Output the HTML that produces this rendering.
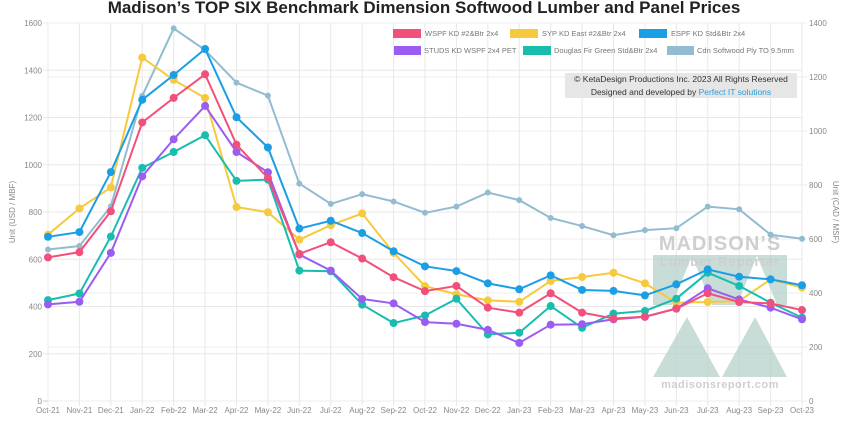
<!DOCTYPE html>
<html><head><meta charset="utf-8">
<style>
body{margin:0;background:#fff;width:848px;height:423px;overflow:hidden;font-family:"Liberation Sans",sans-serif;}
svg{display:block}
</style></head>
<body>
<svg id="chart" width="848" height="423" xmlns="http://www.w3.org/2000/svg">
<text x="424" y="13" text-anchor="middle" font-size="17" font-weight="bold" fill="#222">Madison’s TOP SIX Benchmark Dimension Softwood Lumber and Panel Prices</text>
<g id="grid"></g>
<g id="watermark" opacity="0.7">
  <path d="M653 255 H787 V305 H653 Z M692 256 L672 305 H712 Z M757 256 L737 305 H777 Z" fill="#b3cfc8" fill-rule="evenodd"/>
  <path d="M687 317 L653 377 H720 Z M755 317 L722 377 H787 Z" fill="#b3cfc8"/>
  <text x="720" y="250" text-anchor="middle" font-size="20" font-weight="bold" fill="#bbb" letter-spacing="1">MADISON’S</text>
  <text x="720" y="266" text-anchor="middle" font-size="13" font-weight="bold" fill="#bbb" letter-spacing="1">Lumber Reporter</text>
  <text x="720" y="388" text-anchor="middle" font-size="11" font-weight="bold" fill="#bbb" letter-spacing="0.5">madisonsreport.com</text>
</g>
<g id="series"></g>
<g id="axes"></g>
<g font-size="7.5" fill="#777">
  <rect x="393" y="29" width="28" height="9" fill="#f2507a"/><text x="425" y="36">WSPF KD #2&amp;Btr 2x4</text>
  <rect x="510" y="29" width="28" height="9" fill="#f7c93c"/><text x="542" y="36">SYP KD East #2&amp;Btr 2x4</text>
  <rect x="639" y="29" width="28" height="9" fill="#1a9ee6"/><text x="671" y="36">ESPF KD Std&amp;Btr 2x4</text>
  <rect x="394" y="46" width="27" height="9" fill="#9b5cf2"/><text x="424" y="53">STUDS KD WSPF 2x4 PET</text>
  <rect x="523" y="46" width="28" height="9" fill="#18bdb0"/><text x="554" y="53">Douglas Fir Green Std&amp;Btr 2x4</text>
  <rect x="667" y="46" width="27" height="9" fill="#93bcd0"/><text x="697" y="53">Cdn Softwood Ply TO 9.5mm</text>
</g>
<g>
  <rect x="565" y="73" width="232" height="25" fill="#e6e6e6"/>
  <text x="681" y="82" text-anchor="middle" font-size="8.5" fill="#333">© KetaDesign Productions Inc. 2023 All Rights Reserved</text>
  <text x="681" y="95" text-anchor="middle" font-size="8.5" fill="#333">Designed and developed by <tspan fill="#2a9fd6">Perfect IT solutions</tspan></text>
</g>
</svg>
<script>
const months=["Oct-21","Nov-21","Dec-21","Jan-22","Feb-22","Mar-22","Apr-22","May-22","Jun-22","Jul-22","Aug-22","Sep-22","Oct-22","Nov-22","Dec-22","Jan-23","Feb-23","Mar-23","Apr-23","May-23","Jun-23","Jul-23","Aug-23","Sep-23","Oct-23"];
const leftTicks=[0,200,400,600,800,1000,1200,1400,1600];
const rightTicks=[0,200,400,600,800,1000,1200,1400];
const wspf=[608,630,803,1179,1283,1383,1085,944,623,672,603,524,465,487,395,374,456,374,349,357,391,456,419,413,385];
const syp=[704,815,904,1454,1359,1283,821,799,683,744,794,627,486,452,426,420,508,525,543,498,416,419,423,515,480];
const espf=[695,715,969,1275,1380,1490,1201,1073,730,763,711,634,570,550,498,473,532,470,466,447,494,557,526,515,490];
const studs=[409,420,627,951,1108,1249,1054,968,620,552,432,413,334,327,301,246,323,325,346,356,391,477,430,395,346];
const douglas=[427,455,696,987,1054,1125,932,937,552,549,408,330,362,433,282,289,402,310,370,381,433,543,487,416,353];
const cdnPly=[561,574,721,1130,1380,1300,1179,1131,805,730,766,739,697,720,772,744,678,648,614,633,640,720,710,616,601];

const X0=48,X1=802,Y0=401,Y1=23;
const x=i=>X0+(X1-X0)*i/(months.length-1);
const yL=v=>Y0-(Y0-Y1)*v/1600;
const yR=v=>Y0-(Y0-Y1)*v/1400;
const NS="http://www.w3.org/2000/svg";
function mk(tag,attrs,parent){const e=document.createElementNS(NS,tag);for(const k in attrs)e.setAttribute(k,attrs[k]);parent.appendChild(e);return e;}
const grid=document.getElementById('grid'),axes=document.getElementById('axes'),ser=document.getElementById('series');
leftTicks.forEach(t=>{
  const l=mk('line',{x1:X0-5,x2:X1,y1:yL(t),y2:yL(t),stroke:t===0?'#ccc':'#e8e8e8'},grid);
  
  
  const tx=mk('text',{x:42,y:yL(t)+3,'text-anchor':'end','font-size':8,fill:'#888'},axes);tx.textContent=t;
  
  
});
rightTicks.forEach(t=>{
  const l=mk('line',{x1:X0,x2:X1+5,y1:yR(t),y2:yR(t),stroke:'#ececec'},grid);
  
  
  const tx=mk('text',{x:809,y:yR(t)+3,'font-size':8,fill:'#888'},axes);tx.textContent=t;
  
  
});
months.forEach((m,i)=>{
  const l=mk('line',{x1:x(i),x2:x(i),y1:Y1,y2:Y0+5,stroke:'#e8e8e8'},grid);
  
  
  const tx=mk('text',{x:x(i),y:413,'text-anchor':'middle','font-size':8,fill:'#888'},axes);tx.textContent=m;
  
  
});
const lt=mk('text',{transform:'translate(15,212) rotate(-90)','text-anchor':'middle','font-size':8,fill:'#888'},axes);lt.textContent='Unit (USD / MBF)';


const rt=mk('text',{transform:'translate(833,212) rotate(90)','text-anchor':'middle','font-size':8,fill:'#888'},axes);rt.textContent='Unit (CAD / MSF)';


const list=[[cdnPly,'#93bcd0',yR,3,'cdn-ply'],[syp,'#f7c93c',yL,4,'syp'],[douglas,'#18bdb0',yL,4,'douglas'],[studs,'#9b5cf2',yL,4,'studs'],[wspf,'#f2507a',yL,4,'wspf'],[espf,'#1a9ee6',yL,4,'espf']];
list.forEach(([d,c,yf,r,n])=>{
  const g=mk('g',{},ser);
  
  
  const p=mk('polyline',{points:d.map((v,i)=>x(i)+','+yf(v)).join(' '),fill:'none',stroke:c,'stroke-width':2},g);
  
  
  d.forEach((v,i)=>{
    const ci=mk('circle',{cx:x(i),cy:yf(v),r:r,fill:c},g);
    
    
  });
});
</script>
</body></html>
